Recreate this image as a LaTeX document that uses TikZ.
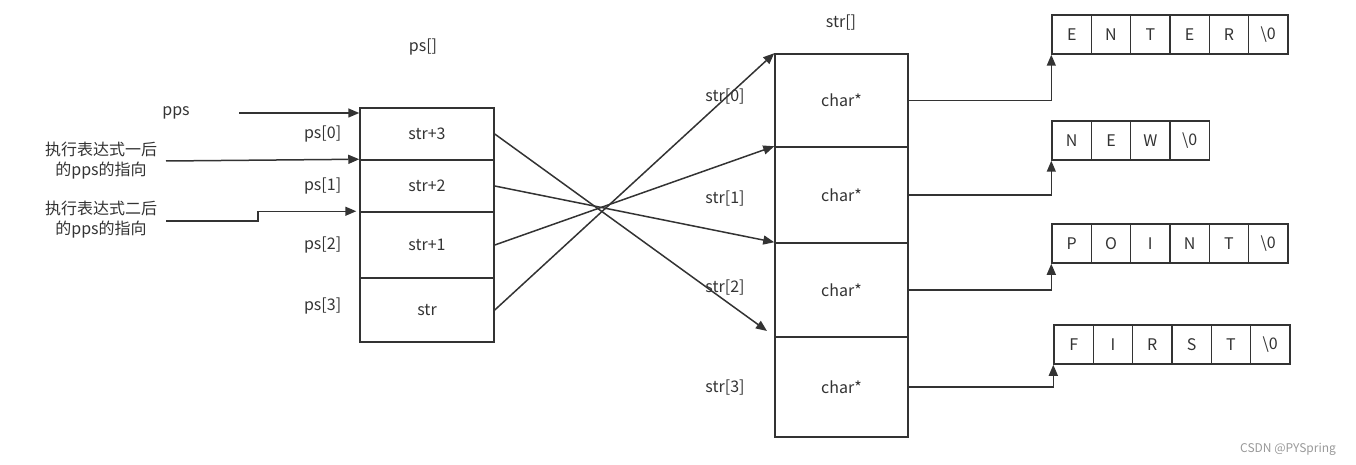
\documentclass[tikz,border=0pt]{standalone}
\usepackage{fontspec}
\setmainfont{Noto Sans CJK SC}
\usetikzlibrary{arrows.meta, positioning}
\definecolor{ink}{HTML}{333333}

\begin{document}
\begin{tikzpicture}[x=1pt, y=-1pt, line width=1.5pt, color=ink,
    every node/.style={font=\fontsize{16}{20}\selectfont},
    arr/.style={-{Triangle[length=11pt,width=9pt]}},
    pcell/.style={draw, minimum width=134pt, inner sep=0pt},
    scell/.style={draw, minimum width=133pt, inner sep=0pt},
    chbox/.style={draw, minimum width=39.3pt, minimum height=39pt, inner sep=0pt}]
\useasboundingbox (0,0) rectangle (1356,465);

% ps[]
\node at (423,47) {ps[]};
\node[pcell, minimum height=52pt] (p0) at (427,134) {str+3};
\node[pcell, minimum height=52pt] (p1) at (427,186) {str+2};
\node[pcell, minimum height=66pt] (p2) at (427,245) {str+1};
\node[pcell, minimum height=64pt] (p3) at (427,310) {str};
\node[left=14pt of p0] {ps[0]};
\node[left=14pt of p1] {ps[1]};
\node[left=14pt of p2] {ps[2]};
\node[left=14pt of p3, yshift=4pt] {ps[3]};

% pps
\node (pps) at (176,113) {pps};
\coordinate (ppsfrom) at (239,113);
\draw[arr] (ppsfrom) -- (ppsfrom -| p0.west);
\node[align=center] (exprone) at (101,161) {执行表达式一后\\的pps的指向};
\coordinate (onefrom) at (166,161);
\draw[arr] (onefrom) -- (p1.north west);
\node[align=center] (exprtwo) at (101,220) {执行表达式二后\\的pps的指向};
\coordinate (twofrom) at (166,221);
\draw[arr, shorten >=3pt] (twofrom) -- ++(92,0) |- (p2.north west);

% str[]
\node at (841,23) {str[]};
\node[scell, minimum height=93pt] (s0) at (841.5,100.5) {char*};
\node[scell, minimum height=96pt] (s1) at (841.5,195) {char*};
\node[scell, minimum height=94pt] (s2) at (841.5,290) {char*};
\node[scell, minimum height=100pt] (s3) at (841.5,387) {char*};
\node at (725,97) {str[0]};
\node at (725,199) {str[1]};
\node at (725,288) {str[2]};
\node at (725,388) {str[3]};

% ps -> str
\draw[arr, shorten >=9pt] (p0.east) -- (s3.north west);
\draw[arr] (p1.east) -- (s2.north west);
\draw[arr] (p2.east) -- (s1.north west);
\draw[arr] (p3.east) -- (s0.north west);

% strings
\foreach \ch [count=\i from 0] in {E,N,T,E,R,\textbackslash 0}
  \node[chbox] (enter\i) at ({1071.7+39.3*\i},34.5) {\ch};
\foreach \ch [count=\i from 0] in {N,E,W,\textbackslash 0}
  \node[chbox] (new\i) at ({1071.7+39.3*\i},140.5) {\ch};
\foreach \ch [count=\i from 0] in {P,O,I,N,T,\textbackslash 0}
  \node[chbox] (point\i) at ({1071.7+39.3*\i},243.5) {\ch};
\foreach \ch [count=\i from 0] in {F,I,R,S,T,\textbackslash 0}
  \node[chbox] (first\i) at ({1073.7+39.3*\i},344.5) {\ch};

% str -> strings
\draw[arr] (s0.east) -| (enter0.south west);
\draw[arr] (s1.east) -| (new0.south west);
\draw[arr] (s2.east) -| (point0.south west);
\draw[arr] (s3.east) -| (first0.south west);

\node[text=gray!80, font=\fontsize{12}{14}\selectfont] (mark) at (1288,449) {CSDN @PYSpring};
\end{tikzpicture}
\end{document}
